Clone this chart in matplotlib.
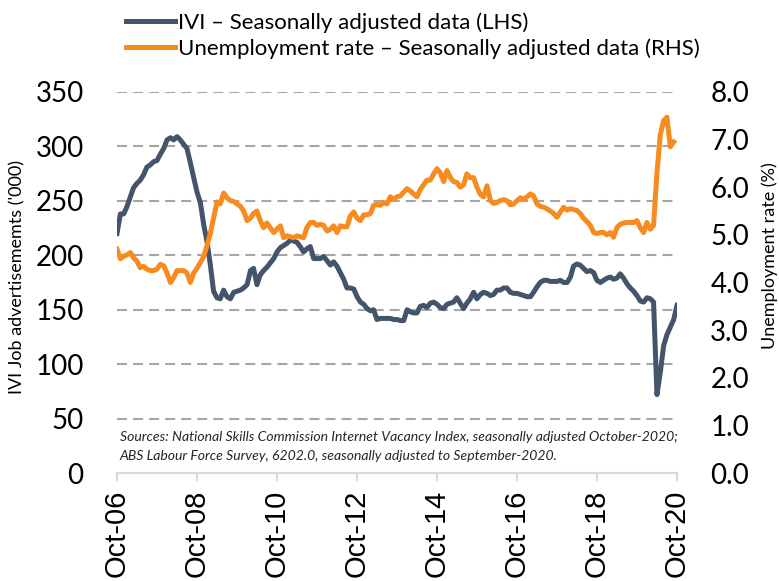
import numpy as np
import pandas as pd
import matplotlib
matplotlib.use("Agg")
import matplotlib.pyplot as plt
import matplotlib.dates as mdates

# IVI job advertisements ('000), monthly Oct-06 .. Oct-20
ivi = [220, 238, 238, 245, 254, 262, 266, 269, 274, 281,
       283, 286, 287, 293, 298, 306, 308, 306, 309, 306,
       302, 298, 285, 271, 258, 248, 228, 212, 190, 167,
       161, 160, 168, 162, 160, 166, 167, 168, 170, 173,
       186, 188, 173, 182, 186, 189, 193, 197, 203, 207,
       209, 211, 214, 213, 212, 208, 203, 206, 208, 197,
       197, 197, 199, 195, 191, 194, 190, 184, 178, 170,
       170, 169, 162, 157, 155, 151, 149, 150, 141, 142,
       142, 142, 142, 141, 141, 140, 140, 150, 148, 147,
       147, 153, 154, 152, 156, 157, 155, 152, 151, 155,
       156, 157, 161, 156, 151, 156, 160, 166, 160, 164,
       166, 165, 163, 164, 168, 168, 170, 170, 166, 165,
       165, 164, 163, 162, 162, 166, 171, 175, 177, 177,
       176, 176, 176, 177, 175, 175, 180, 190, 192, 191,
       188, 185, 186, 184, 177, 175, 177, 179, 180, 178,
       179, 183, 179, 174, 170, 167, 163, 158, 157, 161,
       160, 157, 72, 92, 117, 127, 134, 141, 154]

# unemployment rate (%), monthly Oct-06 .. Sep-20
unemp = [4.70, 4.50, 4.55, 4.58, 4.63, 4.52, 4.45, 4.31, 4.34, 4.28,
         4.25, 4.25, 4.28, 4.38, 4.35, 4.20, 4.00, 4.10, 4.25, 4.25,
         4.25, 4.20, 4.00, 4.20, 4.30, 4.42, 4.55, 4.78, 5.05, 5.35,
         5.69, 5.65, 5.88, 5.78, 5.72, 5.70, 5.65, 5.60, 5.50, 5.30,
         5.35, 5.45, 5.50, 5.30, 5.15, 5.25, 5.15, 5.05, 5.12, 5.19,
         4.94, 4.98, 4.96, 4.94, 4.98, 4.96, 4.94, 5.15, 5.26, 5.26,
         5.20, 5.22, 5.20, 5.08, 5.12, 5.19, 5.05, 5.19, 5.17, 5.17,
         5.40, 5.48, 5.35, 5.30, 5.42, 5.42, 5.45, 5.62, 5.64, 5.62,
         5.68, 5.65, 5.80, 5.75, 5.80, 5.82, 5.90, 5.97, 5.92, 5.86,
         5.80, 5.95, 6.05, 6.15, 6.15, 6.28, 6.39, 6.30, 6.12, 6.35,
         6.20, 6.12, 6.10, 6.00, 6.05, 6.28, 6.20, 6.20, 6.00, 5.85,
         5.80, 6.03, 5.72, 5.66, 5.68, 5.72, 5.74, 5.72, 5.63, 5.65,
         5.72, 5.78, 5.75, 5.80, 5.86, 5.82, 5.65, 5.60, 5.58, 5.55,
         5.50, 5.45, 5.37, 5.48, 5.58, 5.52, 5.55, 5.53, 5.51, 5.45,
         5.35, 5.28, 5.20, 5.05, 5.03, 5.05, 5.05, 5.00, 5.05, 4.95,
         5.15, 5.22, 5.25, 5.26, 5.26, 5.26, 5.30, 5.15, 5.05, 5.26,
         5.12, 5.20, 6.30, 7.10, 7.40, 7.47, 6.85, 6.95]

ivi_dates = pd.date_range("2006-10-01", periods=len(ivi), freq="MS")
unemp_dates = pd.date_range("2006-10-01", periods=len(unemp), freq="MS")

left_ticks = [0, 50, 100, 150, 200, 250, 300, 350]
right_ticks = [0, 1, 2, 3, 4, 5, 6, 7, 8]

BLUE = "#44546A"
ORANGE = "#F68B1F"
GRID = "#A6A6A6"
AXIS = "#D9D9D9"

###############################################################################
fig = plt.figure(figsize=(7.79, 5.81), dpi=100)
ax = fig.add_axes([117/779, 1 - 473/581, 560/779, 381/581])
ax2 = ax.twinx()

ln1, = ax.plot(ivi_dates, ivi, color=BLUE, lw=3.6, solid_joinstyle="round",
               label="IVI \u2013 Seasonally adjusted data (LHS)", zorder=3)
ln2, = ax2.plot(unemp_dates, unemp, color=ORANGE, lw=3.6, solid_joinstyle="round",
                label="Unemployment rate \u2013 Seasonally adjusted data (RHS)")

ax.set_xlim(pd.Timestamp("2006-10-01"), pd.Timestamp("2020-10-01"))
ax.set_ylim(0, 350)
ax2.set_ylim(0, 8)

# gridlines (dashed) on the left scale
for v in left_ticks[1:]:
    ax.axhline(v, color=GRID, lw=1.5, dashes=(4.8, 2.9), zorder=1)

for s in ["top", "left", "right"]:
    ax.spines[s].set_visible(False)
    ax2.spines[s].set_visible(False)
ax2.spines["bottom"].set_visible(False)
ax.spines["bottom"].set_color(AXIS)
ax.spines["bottom"].set_linewidth(1.5)

ax.set_yticks(left_ticks)
ax.set_yticklabels([str(v) for v in left_ticks], fontfamily="Lato", fontsize=20)
ax.tick_params(axis="y", length=0, pad=24)
ax2.set_yticks(right_ticks)
ax2.set_yticklabels(["%.1f" % v for v in right_ticks], fontfamily="Lato", fontsize=20)
ax2.tick_params(axis="y", length=0, pad=24)

ax.xaxis.set_major_locator(mdates.YearLocator(2, month=10, day=1))
ax.xaxis.set_major_formatter(mdates.DateFormatter("%b-%y"))
ax.tick_params(axis="x", direction="out", length=6, width=1.5, color=AXIS, pad=6)
for lab in ax.get_xticklabels():
    lab.set_rotation(90)
    lab.set_fontfamily("Liberation Sans")
    lab.set_fontsize(21)

fig.text(17/779, 1 - 277/581, "IVI Job advertisememts ('000)", rotation=90,
         ha="center", va="center", fontfamily="Lato", fontsize=13)
fig.text(770/779, 1 - 256/581, "Unemployment rate (%)", rotation=90,
         ha="center", va="center", fontfamily="Lato", fontsize=13)

ax.text(0.005, 0.07, "Sources: National Skills Commission Internet Vacancy Index, seasonally adjusted October-2020;\n"
        "ABS Labour Force Survey, 6202.0, seasonally adjusted to September-2020.",
        transform=ax.transAxes, ha="left", va="center", fontfamily="Lato",
        style="italic", fontsize=10.1, color="#262626", linespacing=1.65)

fig.legend(handles=[ln1, ln2], loc="upper left", bbox_to_anchor=(126/779, 1 - 12/581),
           frameon=False, prop={"family": "Lato", "size": 16}, handlelength=2.2,
           handletextpad=0.15, labelspacing=0.25, borderpad=0, borderaxespad=0)

fig.savefig("out.png", dpi=100)
